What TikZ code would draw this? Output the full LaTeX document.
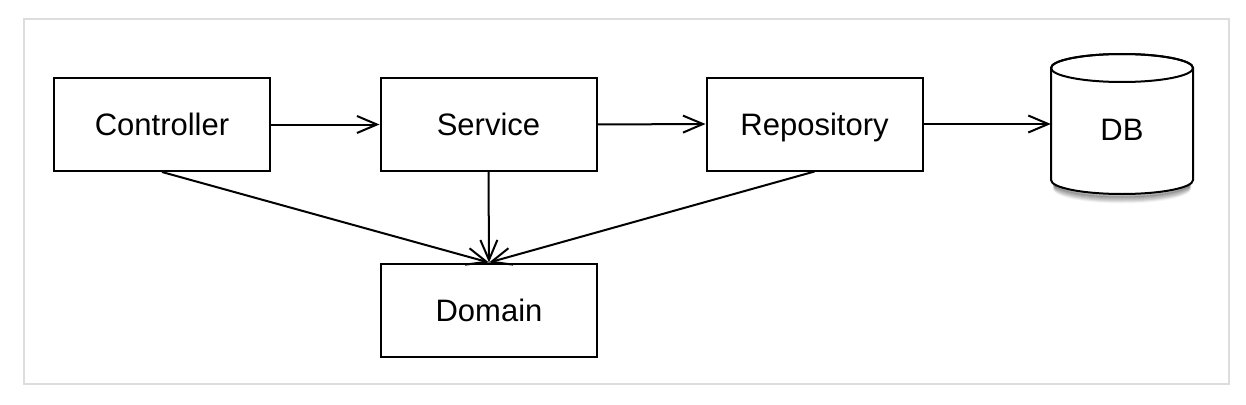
\documentclass[tikz,border=0pt]{standalone}
\usepackage{fontspec}
\setmainfont{Liberation Sans}
\usetikzlibrary{arrows.meta}
\definecolor{framegray}{HTML}{DDDDDD}
\tikzset{
  box/.style={draw=black, line width=2pt, fill=white, minimum width=216pt, minimum height=93pt, inner sep=0pt,
              font=\fontsize{31}{36}\selectfont, text height=22pt, text depth=0pt},
  conn/.style={line width=2pt, -{Straight Barb[length=20pt,width=17pt,line width=2pt]}},
  cyl/.style={draw=black, line width=2pt, fill=white}
}
\begin{document}
\begin{tikzpicture}[x=1pt,y=-1pt]
\useasboundingbox (0,0) rectangle (1246,404);
\fill[white] (0,0) rectangle (1246,404);
\draw[framegray, line width=2pt] (24,19) rectangle (1229,384);
% nodes
\node[box] (ctrl) at (162,124.5) {Controller};
\node[box] (svc) at (488.5,124.5) {Service};
\node[box] (repo) at (814.5,124) {Repository};
\node[box] (dom) at (489,310) {Domain};
% DB cylinder with soft shadow
\foreach \o/\a in {8/0.04,7/0.06,6/0.08,5/0.1,4/0.12,3/0.15,2/0.2}{
  \draw[black, opacity=\a, line width=3pt] (1054,180+\o) arc[start angle=180, end angle=0, x radius=68, y radius=14];
}
\path[cyl] (1051,68) -- (1051,180) arc[start angle=180, end angle=0, x radius=71, y radius=14] -- (1193,68)
  arc[start angle=0, end angle=-180, x radius=71, y radius=14] -- cycle;
\draw[line width=2pt] (1122,68) ellipse[x radius=71, y radius=14];
\node[inner sep=0pt, minimum width=142pt, minimum height=112pt, font=\fontsize{31}{36}\selectfont,
      text height=22pt, text depth=0pt] (db) at (1122,129) {DB};
% connectors
\draw[conn] (ctrl.east) -- (svc.west);
\draw[conn] (svc.east) -- (repo.west);
\draw[conn] (repo.east) -- (db.west |- repo.east);
\draw[conn] (ctrl.south) -- (dom.north);
\draw[conn] (svc.south) -- (dom.north);
\draw[conn] (repo.south) -- (dom.north);
\end{tikzpicture}
\end{document}
